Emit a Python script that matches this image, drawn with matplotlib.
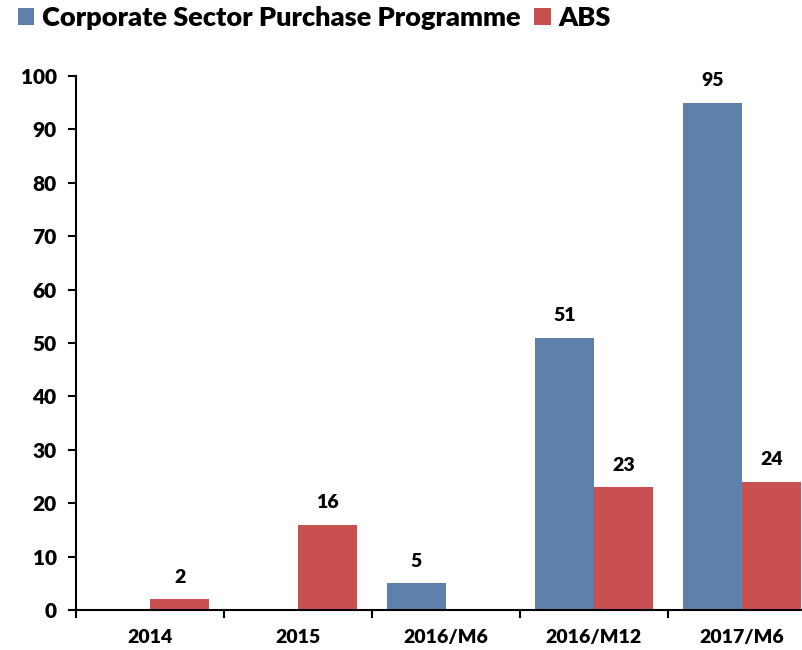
import numpy as np
import matplotlib.pyplot as plt

categories = ['2014', '2015', '2016/M6', '2016/M12', '2017/M6']
cspp = [0, 0, 5, 51, 95]
abs_vals = [2, 16, 0, 23, 24]
series_names = ['Corporate Sector Purchase Programme', 'ABS']

BLUE = '#5E81AC'
RED = '#C85050'

plt.rcParams['font.family'] = ['Lato', 'DejaVu Sans']
plt.rcParams['font.weight'] = 'heavy'

fig = plt.figure(figsize=(8.03, 6.5), dpi=100)
ax = fig.add_axes([76 / 803, 40 / 650, 740 / 803, 534 / 650])

x = np.arange(len(categories))
w = 0.4
ax.bar(x - w / 2, cspp, w, color=BLUE, label=series_names[0])
ax.bar(x + w / 2, abs_vals, w, color=RED, label=series_names[1])

# value labels, skip empty bars
for xi, v in zip(x, cspp):
    if v > 0:
        ax.text(xi - w / 2, v + 2.5, str(v), ha='center', va='bottom',
                fontsize=14, fontweight='heavy')
for xi, v in zip(x, abs_vals):
    if v > 0:
        ax.text(xi + w / 2, v + 2.5, str(v), ha='center', va='bottom',
                fontsize=14, fontweight='heavy')

ax.set_xlim(-0.5, len(categories) - 0.5)
ax.set_ylim(0, 100)
ax.set_yticks(np.arange(0, 101, 10))
ax.set_xticks(x)
ax.set_xticklabels(categories)
ax.set_xticks(np.arange(-0.5, len(categories), 1), minor=True)

ax.tick_params(axis='y', length=6, width=1.5, labelsize=15, pad=8)
ax.tick_params(axis='x', which='major', length=0, labelsize=14, pad=14)
ax.tick_params(axis='x', which='minor', length=6, width=1.5)
for lab in ax.get_xticklabels() + ax.get_yticklabels():
    lab.set_fontweight('heavy')

for s in ['top', 'right']:
    ax.spines[s].set_visible(False)
for s in ['left', 'bottom']:
    ax.spines[s].set_linewidth(1.5)

fig.legend(loc='upper left', bbox_to_anchor=(18 / 803, 1 - 6 / 650), ncol=2,
           frameon=False, borderpad=0, borderaxespad=0,
           handlelength=0.6, handleheight=0.6,
           handletextpad=0.3, columnspacing=0.5,
           prop={'weight': 'heavy', 'size': 19.5})

fig.savefig('out.png', dpi=100)
